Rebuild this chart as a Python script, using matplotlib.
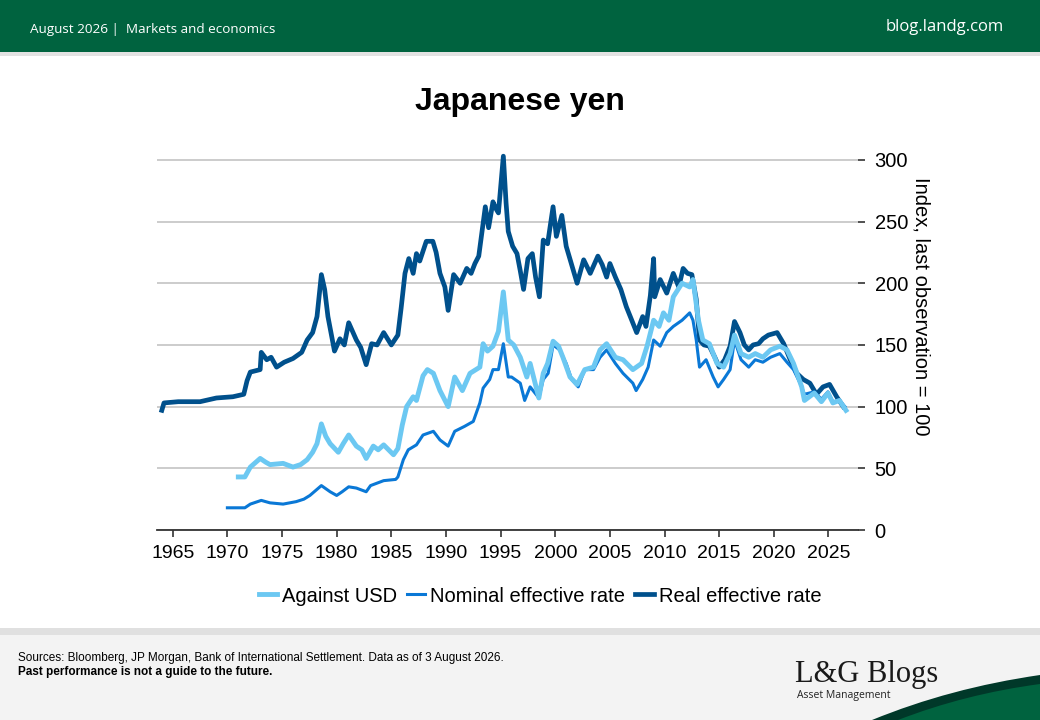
# Japanese yen index chart (L&G blog style)
import matplotlib
matplotlib.use('Agg')
import matplotlib.pyplot as plt
from matplotlib.patches import Rectangle, PathPatch
from matplotlib.path import Path

# colours
green = '#00633f'
dark_green = '#003829'
c_usd = '#6cc8f2'
c_nom = '#0a78d6'
c_real = '#00508c'

# real effective rate (year, index)
real_years = [1964.0, 1964.2, 1965.5, 1967.5, 1969.0, 1970.5, 1971.5, 1971.8, 1972.1, 1973.0,
              1973.1, 1973.6, 1974.0, 1974.5, 1975.2, 1976.0, 1976.8, 1977.3, 1977.8, 1978.2,
              1978.6, 1978.9, 1979.2, 1979.8, 1980.3, 1980.7, 1981.1, 1981.8, 1982.2, 1982.7,
              1983.2, 1983.7, 1984.3, 1985.0, 1985.6, 1985.9, 1986.25, 1986.6, 1987.0, 1987.3,
              1987.6, 1988.2, 1988.8, 1989.1, 1989.45, 1989.9, 1990.2, 1990.7, 1991.3, 1991.9,
              1992.3, 1992.65, 1993.0, 1993.6, 1993.9, 1994.3, 1994.6, 1994.8, 1995.25, 1995.5,
              1995.7, 1996.1, 1996.5, 1996.8, 1997.1, 1997.5, 1997.9, 1998.2, 1998.55, 1998.9,
              1999.3, 1999.8, 2000.1, 2000.6, 2001.0, 2001.5, 2002.0, 2002.6, 2003.2, 2003.9,
              2004.3, 2004.7, 2005.0, 2005.5, 2006.0, 2006.5, 2007.0, 2007.45, 2008.0, 2008.3,
              2008.7, 2009.0, 2009.1, 2009.6, 2010.2, 2010.8, 2011.3, 2011.7, 2012.1, 2012.5,
              2012.9, 2013.2, 2013.6, 2014.1, 2014.6, 2015.0, 2015.5, 2016.0, 2016.4, 2016.9,
              2017.3, 2017.7, 2018.1, 2018.6, 2019.0, 2019.5, 2020.3, 2020.9, 2021.5, 2022.1,
              2022.7, 2023.3, 2023.9, 2024.5, 2025.1, 2025.75, 2026.35]
real_vals = [97, 103, 104, 104, 107, 108, 110, 121, 128, 130,
             144, 138, 140, 132, 136, 139, 144, 154, 160, 173,
             207, 195, 173, 145, 155, 150, 168, 154, 148, 134,
             151, 150, 160, 150, 158, 180, 208, 220, 208, 224,
             218, 234, 234, 225, 208, 197, 178, 207, 200, 212,
             208, 216, 222, 262, 245, 266, 260, 257, 303, 265,
             242, 230, 224, 210, 195, 220, 224, 205, 189, 235,
             232, 262, 238, 255, 230, 215, 200, 219, 208, 222,
             215, 205, 216, 205, 195, 181, 170, 160, 173, 165,
             190, 220, 189, 203, 192, 208, 197, 212, 208, 207,
             187, 154, 150, 149, 140, 132, 138, 149, 169, 160,
             150, 146, 150, 151, 155, 158, 160, 151, 138, 127,
             122, 119, 110, 116, 118, 108, 100]

# nominal effective rate
nom_years = [1970.0, 1971.6, 1972.1, 1973.1, 1973.9, 1975.1, 1976.3, 1977.0, 1977.55, 1978.6,
             1979.4, 1980.0, 1980.5, 1981.1, 1981.8, 1982.7, 1983.1, 1984.3, 1985.4, 1985.6,
             1986.1, 1986.55, 1987.3, 1987.9, 1988.85, 1989.45, 1990.2, 1990.8, 1991.7, 1992.5,
             1993.1, 1993.4, 1994.0, 1994.3, 1994.8, 1995.25, 1995.7, 1996.0, 1996.8, 1997.2,
             1997.7, 1998.5, 1998.9, 1999.35, 1999.8, 2000.4, 2001.0, 2001.5, 2002.1, 2002.7,
             2003.5, 2004.1, 2004.7, 2005.5, 2006.2, 2007.1, 2007.4, 2008.0, 2008.5, 2009.0,
             2009.6, 2010.2, 2010.8, 2011.6, 2012.3, 2012.6, 2012.9, 2013.2, 2013.8, 2014.45,
             2014.9, 2015.4, 2016.0, 2016.4, 2017.0, 2017.7, 2018.3, 2019.0, 2019.7, 2020.55,
             2021.2, 2021.8, 2022.4, 2022.8, 2023.7, 2024.35, 2024.95, 2025.4, 2026.0, 2026.5]
nom_vals = [18, 18, 21, 24, 22, 21, 23, 25, 28, 36,
            31, 28, 31, 35, 34, 31, 36, 40, 41, 43,
            57, 65, 69, 77, 80, 73, 68, 80, 84, 88,
            103, 115, 122, 130, 130, 151, 124, 124, 119, 105,
            116, 107, 122, 127, 150, 146, 135, 122, 116, 130,
            130, 140, 146, 135, 127, 119, 113, 122, 132, 154,
            149, 160, 165, 170, 176, 170, 154, 132, 138, 124,
            116, 122, 130, 154, 138, 132, 138, 136, 140, 143,
            136, 130, 119, 110, 112, 106, 112, 104, 105, 100]

# against USD
usd_years = [1971.0, 1971.6, 1972.1, 1973.0, 1973.5, 1973.9, 1975.1, 1976.0, 1976.7, 1977.3,
             1977.8, 1978.2, 1978.6, 1979.0, 1979.4, 1980.15, 1980.6, 1981.1, 1981.8, 1982.3,
             1982.7, 1983.35, 1983.8, 1984.3, 1985.2, 1985.6, 1986.0, 1986.4, 1987.0, 1987.3,
             1987.9, 1988.3, 1988.85, 1989.45, 1990.2, 1990.8, 1991.5, 1992.2, 1993.1, 1993.4,
             1993.8, 1994.3, 1994.8, 1995.25, 1995.7, 1996.2, 1996.8, 1997.4, 1997.7, 1998.5,
             1998.9, 1999.3, 1999.8, 2000.3, 2000.7, 2001.35, 2002.0, 2002.7, 2003.5, 2004.1,
             2004.7, 2005.5, 2006.2, 2007.1, 2007.9, 2008.4, 2009.0, 2009.5, 2009.9, 2010.4,
             2010.8, 2011.6, 2012.3, 2012.6, 2013.1, 2013.5, 2014.1, 2014.8, 2015.4, 2016.0,
             2016.4, 2017.0, 2017.7, 2018.3, 2019.0, 2019.7, 2020.55, 2021.2, 2021.8, 2022.55,
             2022.8, 2023.7, 2024.35, 2024.95, 2025.4, 2026.0, 2026.6]
usd_vals = [43, 43, 51, 58, 55, 53, 54, 51, 53, 57,
            63, 70, 86, 76, 70, 63, 70, 77, 68, 65,
            58, 68, 65, 69, 61, 66, 85, 100, 108, 105,
            125, 130, 127, 113, 100, 124, 113, 127, 132, 151,
            145, 149, 161, 193, 154, 150, 140, 124, 135, 107,
            127, 135, 153, 149, 140, 124, 118, 130, 132, 146,
            151, 140, 138, 130, 135, 149, 170, 165, 176, 170,
            189, 200, 197, 203, 170, 154, 151, 135, 132, 143,
            158, 143, 140, 143, 140, 146, 149, 146, 135, 116,
            105, 111, 104, 111, 103, 105, 97]

x_ticks = list(range(1965, 2026, 5))
y_ticks = [0, 50, 100, 150, 200, 250, 300]

W, H = 1040, 720
fig = plt.figure(figsize=(W / 100, H / 100), dpi=100)
fig.patch.set_facecolor('white')


def fx(x):
    return x / W


def fy(y):
    return 1 - y / H


# header band
fig.patches.append(Rectangle((0, fy(52)), 1, 52 / H, transform=fig.transFigure,
                             facecolor=green, edgecolor='none', zorder=0))
fig.patches.append(Rectangle((0, fy(56)), 1, 4 / H, transform=fig.transFigure,
                             facecolor='#e2e2e2', edgecolor='none', zorder=0))
fig.text(fx(30), fy(29), 'August 2026 |  Markets and economics', color='white',
         fontsize=9.7, family='Open Sans', va='center', ha='left')
fig.text(fx(1004), fy(27), 'blog.landg.com', color='white',
         fontsize=12, family='Open Sans', va='center', ha='right')

# footer band
fig.patches.append(Rectangle((0, 0), 1, fy(628), transform=fig.transFigure,
                             facecolor='#e0e0e0', edgecolor='none', zorder=0))
fig.patches.append(Rectangle((0, 0), 1, fy(635), transform=fig.transFigure,
                             facecolor='#f3f3f3', edgecolor='none', zorder=0))
fig.text(fx(18), fy(658), 'Sources: Bloomberg, JP Morgan, Bank of International Settlement. '
         'Data as of 3 August 2026.', fontsize=8.5, family='Liberation Sans',
         va='center', ha='left', color='black')
fig.text(fx(18), fy(672), 'Past performance is not a guide to the future.', fontsize=8.5,
         family='Liberation Sans', weight='bold', va='center', ha='left', color='black')
fig.text(fx(795), fy(682), 'L&G Blogs', fontsize=22, family='Liberation Serif',
         va='baseline', ha='left', color='#1a1a1a')
fig.text(fx(797), fy(698), 'Asset Management', fontsize=7.5, family='Open Sans',
         va='baseline', ha='left', color='#222222')

# swoosh in the corner
outer = Path([(fx(872), fy(720)), (fx(950), fy(688)), (fx(1040), fy(675)),
              (fx(1040), fy(720)), (fx(872), fy(720))],
             [Path.MOVETO, Path.CURVE3, Path.CURVE3, Path.LINETO, Path.CLOSEPOLY])
inner = Path([(fx(898), fy(720)), (fx(965), fy(694)), (fx(1040), fy(684)),
              (fx(1040), fy(720)), (fx(898), fy(720))],
             [Path.MOVETO, Path.CURVE3, Path.CURVE3, Path.LINETO, Path.CLOSEPOLY])
fig.patches.append(PathPatch(outer, transform=fig.transFigure, facecolor=dark_green,
                             edgecolor='none', zorder=1))
fig.patches.append(PathPatch(inner, transform=fig.transFigure, facecolor=green,
                             edgecolor='none', zorder=2))

# chart
ax = fig.add_axes([fx(157), fy(530), (858 - 157) / W, (530 - 150) / H])
ax.set_facecolor('none')
ax.plot(real_years, real_vals, color=c_real, lw=3.4, label='Real effective rate',
        solid_joinstyle='round', zorder=3)
ax.plot(nom_years, nom_vals, color=c_nom, lw=2.2, label='Nominal effective rate',
        solid_joinstyle='round', zorder=4)
ax.plot(usd_years, usd_vals, color=c_usd, lw=3.5, label='Against USD',
        solid_joinstyle='round', zorder=5)

ax.set_xlim(1963.56, 2027.7)
ax.set_ylim(0, 308)
ax.set_xticks(x_ticks)
ax.set_yticks(y_ticks)
ax.yaxis.tick_right()
ax.yaxis.set_label_position('right')
for s in ['top', 'left', 'right']:
    ax.spines[s].set_visible(False)
ax.spines['bottom'].set_color('#333333')
ax.spines['bottom'].set_linewidth(1.3)
ax.tick_params(axis='x', direction='out', length=5, width=1.2, color='#333333',
               labelsize=14, pad=6)
ax.tick_params(axis='y', direction='out', length=5, width=1.2, color='#333333',
               labelsize=14.5, pad=7)
for lab in ax.get_xticklabels() + ax.get_yticklabels():
    lab.set_family('Liberation Sans')
ax.yaxis.grid(True, color='#c8c8c8', lw=1.3)
ax.set_axisbelow(True)
ax.set_ylabel('Index, last observation = 100', rotation=-90, fontsize=14.5,
              family='Liberation Sans', va='center', ha='center')
ax.yaxis.set_label_coords(1.09, 0.59)

fig.text(0.5, fy(102), 'Japanese yen', fontsize=23, weight='bold',
         family='Liberation Sans', ha='center', va='center')

handles, labels = ax.get_legend_handles_labels()
order = [2, 1, 0]
fig.legend([handles[i] for i in order], [labels[i] for i in order],
           loc='center', bbox_to_anchor=(fx(540), fy(596)), ncol=3, frameon=False,
           handlelength=0.9, handletextpad=0.25, columnspacing=0.5,
           prop={'family': 'Liberation Sans', 'size': 14.5})

fig.savefig('out.png', dpi=100)
